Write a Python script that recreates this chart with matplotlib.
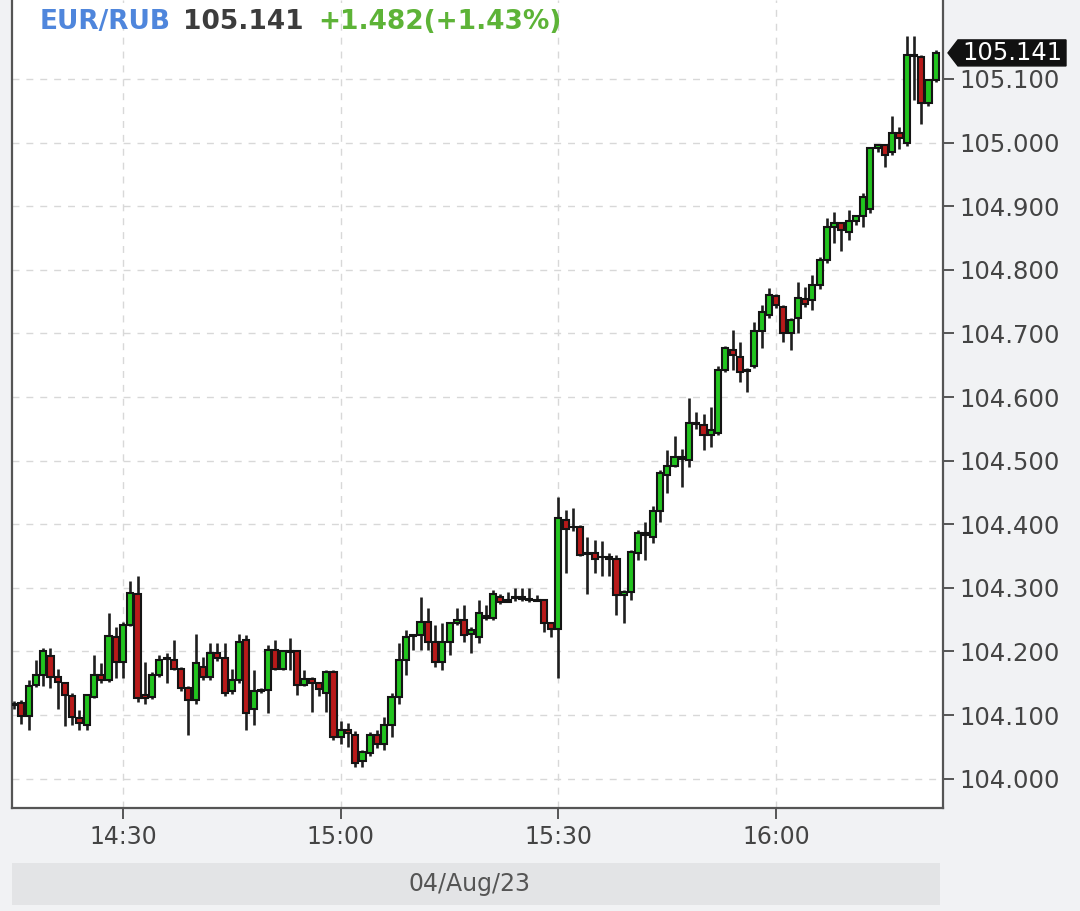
import matplotlib
matplotlib.use("Agg")
import matplotlib.pyplot as plt
from matplotlib.patches import Rectangle, Polygon
from matplotlib.transforms import blended_transform_factory
import numpy as np

# ---------------- data ----------------
times = ["14:15", "14:16", "14:17", "14:18", "14:19", "14:20", "14:21", "14:22", "14:23", "14:24",
         "14:25", "14:26", "14:27", "14:28", "14:29", "14:30", "14:31", "14:32", "14:33", "14:34",
         "14:35", "14:36", "14:37", "14:38", "14:39", "14:40", "14:41", "14:42", "14:43", "14:44",
         "14:45", "14:46", "14:47", "14:48", "14:49", "14:50", "14:51", "14:52", "14:53", "14:54",
         "14:55", "14:56", "14:57", "14:58", "14:59", "15:00", "15:01", "15:02", "15:03", "15:04",
         "15:05", "15:06", "15:07", "15:08", "15:09", "15:10", "15:11", "15:12", "15:13", "15:14",
         "15:15", "15:16", "15:17", "15:18", "15:19", "15:20", "15:21", "15:22", "15:23", "15:24",
         "15:25", "15:26", "15:27", "15:28", "15:29", "15:30", "15:31", "15:32", "15:33", "15:34",
         "15:35", "15:36", "15:37", "15:38", "15:39", "15:40", "15:41", "15:42", "15:43", "15:44",
         "15:45", "15:46", "15:47", "15:48", "15:49", "15:50", "15:51", "15:52", "15:53", "15:54",
         "15:55", "15:56", "15:57", "15:58", "15:59", "16:00", "16:01", "16:02", "16:03", "16:04",
         "16:05", "16:06", "16:07", "16:08", "16:09", "16:10", "16:11", "16:12", "16:13", "16:14",
         "16:15", "16:16", "16:17", "16:18", "16:19", "16:20", "16:21", "16:22"]

opens = [104.118, 104.119, 104.098, 104.147, 104.163, 104.193, 104.160, 104.151, 104.130, 104.095,
         104.084, 104.129, 104.163, 104.155, 104.223, 104.184, 104.242, 104.290, 104.131, 104.129,
         104.163, 104.188, 104.186, 104.173, 104.142, 104.124, 104.176, 104.160, 104.197, 104.189,
         104.137, 104.155, 104.218, 104.110, 104.137, 104.139, 104.202, 104.173, 104.200, 104.200,
         104.147, 104.156, 104.150, 104.134, 104.168, 104.066, 104.076, 104.069, 104.027, 104.040,
         104.069, 104.055, 104.084, 104.129, 104.186, 104.224, 104.226, 104.247, 104.215, 104.184,
         104.215, 104.244, 104.249, 104.228, 104.223, 104.252, 104.252, 104.286, 104.278, 104.284,
         104.286, 104.283, 104.281, 104.281, 104.244, 104.236, 104.407, 104.396, 104.396, 104.354,
         104.354, 104.349, 104.349, 104.346, 104.289, 104.294, 104.354, 104.383, 104.380, 104.420,
         104.477, 104.492, 104.505, 104.501, 104.559, 104.556, 104.540, 104.543, 104.642, 104.674,
         104.663, 104.642, 104.648, 104.703, 104.729, 104.759, 104.742, 104.700, 104.724, 104.754,
         104.753, 104.776, 104.815, 104.868, 104.873, 104.860, 104.876, 104.884, 104.895, 104.991,
         104.996, 104.986, 105.015, 104.999, 105.138, 105.135, 105.062, 105.099]

highs = [104.122, 104.124, 104.155, 104.186, 104.205, 104.205, 104.173, 104.152, 104.134, 104.108,
         104.133, 104.195, 104.181, 104.260, 104.239, 104.247, 104.310, 104.318, 104.184, 104.168,
         104.194, 104.197, 104.218, 104.175, 104.145, 104.228, 104.192, 104.213, 104.213, 104.213,
         104.173, 104.228, 104.226, 104.171, 104.142, 104.210, 104.218, 104.203, 104.221, 104.202,
         104.171, 104.160, 104.152, 104.170, 104.170, 104.090, 104.087, 104.075, 104.045, 104.074,
         104.076, 104.097, 104.134, 104.213, 104.234, 104.228, 104.286, 104.268, 104.242, 104.244,
         104.246, 104.268, 104.273, 104.238, 104.281, 104.273, 104.297, 104.291, 104.294, 104.299,
         104.299, 104.299, 104.289, 104.283, 104.246, 104.443, 104.422, 104.425, 104.398, 104.380,
         104.375, 104.373, 104.354, 104.352, 104.296, 104.360, 104.391, 104.404, 104.429, 104.485,
         104.517, 104.538, 104.519, 104.598, 104.577, 104.574, 104.585, 104.648, 104.680, 104.705,
         104.687, 104.645, 104.718, 104.745, 104.771, 104.762, 104.745, 104.725, 104.781, 104.773,
         104.792, 104.820, 104.881, 104.891, 104.875, 104.894, 104.886, 104.920, 104.993, 104.998,
         104.998, 105.042, 105.025, 105.168, 105.168, 105.137, 105.100, 105.145]

lows = [104.110, 104.086, 104.077, 104.144, 104.145, 104.142, 104.110, 104.082, 104.084, 104.076,
        104.076, 104.126, 104.150, 104.152, 104.158, 104.158, 104.240, 104.120, 104.118, 104.125,
        104.160, 104.150, 104.170, 104.138, 104.069, 104.118, 104.155, 104.155, 104.185, 104.130,
        104.133, 104.150, 104.076, 104.084, 104.135, 104.103, 104.170, 104.170, 104.170, 104.131,
        104.145, 104.105, 104.130, 104.105, 104.060, 104.055, 104.050, 104.019, 104.019, 104.035,
        104.048, 104.045, 104.066, 104.118, 104.163, 104.202, 104.202, 104.202, 104.176, 104.171,
        104.194, 104.242, 104.215, 104.197, 104.213, 104.250, 104.250, 104.275, 104.277, 104.280,
        104.280, 104.278, 104.279, 104.231, 104.223, 104.158, 104.323, 104.390, 104.350, 104.291,
        104.323, 104.318, 104.318, 104.257, 104.244, 104.281, 104.344, 104.344, 104.370, 104.404,
        104.449, 104.490, 104.459, 104.490, 104.550, 104.517, 104.522, 104.540, 104.640, 104.642,
        104.624, 104.608, 104.645, 104.677, 104.725, 104.740, 104.687, 104.674, 104.700, 104.742,
        104.737, 104.770, 104.810, 104.842, 104.829, 104.847, 104.870, 104.868, 104.890, 104.985,
        104.962, 104.981, 104.990, 104.995, 105.067, 105.030, 105.057, 105.095]

closes = [104.115, 104.099, 104.146, 104.163, 104.200, 104.160, 104.152, 104.132, 104.097, 104.087,
          104.131, 104.163, 104.155, 104.224, 104.184, 104.242, 104.292, 104.127, 104.127, 104.163,
          104.186, 104.190, 104.173, 104.142, 104.124, 104.181, 104.160, 104.197, 104.189, 104.134,
          104.155, 104.215, 104.103, 104.137, 104.139, 104.202, 104.173, 104.200, 104.199, 104.147,
          104.156, 104.150, 104.141, 104.168, 104.066, 104.076, 104.071, 104.024, 104.042, 104.069,
          104.055, 104.084, 104.129, 104.186, 104.223, 104.226, 104.247, 104.215, 104.184, 104.215,
          104.244, 104.249, 104.226, 104.234, 104.260, 104.255, 104.291, 104.278, 104.281, 104.286,
          104.283, 104.281, 104.280, 104.244, 104.236, 104.409, 104.393, 104.395, 104.352, 104.353,
          104.346, 104.348, 104.346, 104.289, 104.294, 104.357, 104.386, 104.386, 104.420, 104.480,
          104.492, 104.505, 104.503, 104.559, 104.557, 104.540, 104.548, 104.642, 104.677, 104.666,
          104.640, 104.641, 104.703, 104.734, 104.760, 104.745, 104.700, 104.721, 104.755, 104.747,
          104.776, 104.815, 104.868, 104.874, 104.862, 104.876, 104.884, 104.915, 104.991, 104.996,
          104.981, 105.015, 105.007, 105.138, 105.136, 105.062, 105.099, 105.141]

x_tick_labels = ["14:30", "15:00", "15:30", "16:00"]
y_ticks = [104.0, 104.1, 104.2, 104.3, 104.4, 104.5, 104.6, 104.7, 104.8, 104.9, 105.0, 105.1]
symbol = "EUR/RUB"
last_price = "105.141"
change_text = "+1.482(+1.43%)"
date_label = "04/Aug/23"

# ---------------- figure ----------------
W, H = 1080, 911
fig = plt.figure(figsize=(W / 100, H / 100), dpi=100, facecolor="#f1f2f4")
ax = fig.add_axes([12 / W, (H - 808) / H, 931 / W, 808 / H])
ax.set_facecolor("white")

def to_min(t):
    h, m = t.split(":")
    return (int(h) - 14) * 60 + int(m)

x = np.array([to_min(t) for t in times], dtype=float)
o = np.array(opens)
c = np.array(closes)
hi = np.array(highs)
lo = np.array(lows)

up = c >= o
colors = np.where(up, "#22c41f", "#b81a1a")

# grid
ax.set_axisbelow(True)
for yv in y_ticks:
    ax.axhline(yv, color="#d8d8d8", lw=1.0, ls=(0, (5, 5)), zorder=0)
for xv in [to_min(t) for t in x_tick_labels]:
    ax.axvline(xv, color="#d8d8d8", lw=1.0, ls=(0, (5, 5)), zorder=0)

# candles
ax.vlines(x, lo, hi, color="#1e1e1e", lw=1.9, zorder=2)
heights = np.maximum(np.abs(c - o), 0.0008)
ax.bar(x, heights, bottom=np.minimum(o, c), width=0.84, color=colors,
       edgecolor="#141414", linewidth=1.5, zorder=3)

ax.set_xlim(14.70, 143.0)
ax.set_ylim(103.9538, 105.2242)

# axes styling
for s in ["left", "bottom", "right"]:
    ax.spines[s].set_color("#555555")
    ax.spines[s].set_linewidth(1.6)
ax.spines["top"].set_visible(False)

ax.set_xticks([to_min(t) for t in x_tick_labels])
ax.set_xticklabels(x_tick_labels)
ax.yaxis.tick_right()
ax.set_yticks(y_ticks)
ax.set_yticklabels([f"{v:.3f}" for v in y_ticks])
ax.tick_params(axis="x", direction="out", length=8, width=1.4, color="#555555",
               labelsize=17, labelcolor="#444444", pad=4)
ax.tick_params(axis="y", direction="out", length=8, width=1.4, color="#555555",
               labelsize=17.5, labelcolor="#444444", pad=4, left=False, right=True)

# title pieces
yt = 1 - 22 / H
fig.text(40 / W, yt, symbol, color="#4f86dc", fontsize=19, fontweight="bold", va="center", ha="left")
fig.text(183 / W, yt, last_price, color="#3c3c3c", fontsize=19, fontweight="bold", va="center", ha="left")
fig.text(318 / W, yt, change_text, color="#5db337", fontsize=19, fontweight="bold", va="center", ha="left")

# last price tag on right axis
tr = blended_transform_factory(fig.transFigure, ax.transData)
lp = float(last_price)
hh = 13 / 636.0
x0, x1, x2 = 948 / W, 958 / W, 1066 / W
tag = Polygon([(x0, lp), (x1, lp + hh), (x2, lp + hh), (x2, lp - hh), (x1, lp - hh)],
              closed=True, facecolor="#111111", edgecolor="#111111", transform=tr, clip_on=False, zorder=10)
fig.patches.append(tag)
fig.text(1062 / W, lp, last_price, transform=tr, color="white", fontsize=17.5,
         va="center", ha="right", zorder=11)

# date bar
fig.patches.append(Rectangle((12 / W, (H - 905) / H), 928 / W, 42 / H, transform=fig.transFigure,
                             facecolor="#e3e4e6", edgecolor="none", zorder=0))
fig.text(470 / W, 1 - 884 / H, date_label, color="#555555", fontsize=17, va="center", ha="center")

fig.savefig("out.png", dpi=100, facecolor=fig.get_facecolor())
